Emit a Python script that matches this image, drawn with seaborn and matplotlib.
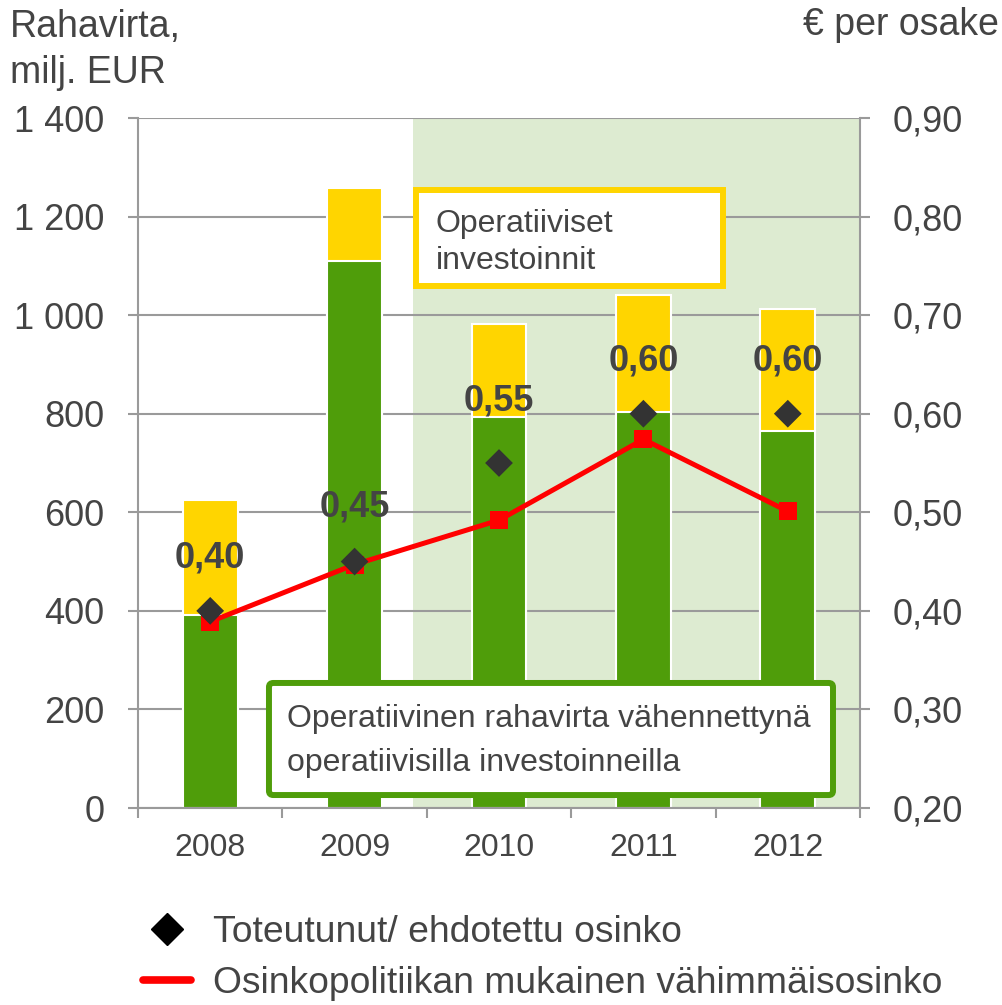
import numpy as np
import pandas as pd
import matplotlib
matplotlib.use("Agg")
import matplotlib.pyplot as plt
import seaborn as sns
from matplotlib.patches import Rectangle, FancyBboxPatch
from matplotlib.lines import Line2D

# ---------------- data ----------------
years = ["2008", "2009", "2010", "2011", "2012"]
free_cash_flow = [392, 1110, 793, 803, 765]          # green part (milj. EUR)
total_cash_flow = [625, 1258, 982, 1041, 1012]       # green + yellow (milj. EUR)
dividend = [0.40, 0.45, 0.55, 0.60, 0.60]            # € per osake
min_dividend = [0.389, 0.447, 0.492, 0.574, 0.501]   # € per osake
dividend_labels = ["0,40", "0,45", "0,55", "0,60", "0,60"]

left_ticks = [0, 200, 400, 600, 800, 1000, 1200, 1400]
left_tick_labels = ["0", "200", "400", "600", "800", "1 000", "1 200", "1 400"]
right_ticks = [0.20, 0.30, 0.40, 0.50, 0.60, 0.70, 0.80, 0.90]
right_tick_labels = ["0,20", "0,30", "0,40", "0,50", "0,60", "0,70", "0,80", "0,90"]

legend_labels = ["Toteutunut/ ehdotettu osinko",
                 "Osinkopolitiikan mukainen vähimmäisosinko"]

# ---------------- style ----------------
GREEN = "#4F9D0A"
YELLOW = "#FFD500"
SHADE = "#DDEBD1"
GRID = "#9A9A9A"
TEXT = "#444444"
label_offsets = [38, 39, 45, 38, 38]   # points above the diamond

sns.set_theme(style="white")
plt.rcParams["font.family"] = ["Liberation Sans", "DejaVu Sans"]

fig = plt.figure(figsize=(10.03, 10.05), dpi=100)
ax = fig.add_axes([138 / 1003, 1 - 808 / 1005, 722 / 1003, 690 / 1005])

df = pd.DataFrame({"year": years, "total": total_cash_flow, "free": free_cash_flow})

ax.axvspan(1.404, 4.6, color=SHADE, lw=0, zorder=0.2)
sns.barplot(data=df, x="year", y="total", color=YELLOW, saturation=1, width=0.38,
            edgecolor="white", linewidth=1.5, ax=ax, zorder=2)
sns.barplot(data=df, x="year", y="free", color=GREEN, saturation=1, width=0.38,
            edgecolor="white", linewidth=1.5, ax=ax, zorder=2)

ax.set_xlim(-0.5, 4.5)
ax.set_ylim(0, 1400)
ax.set_yticks(left_ticks)
ax.set_yticklabels(left_tick_labels)
ax.set_xlabel("")
ax.set_ylabel("")
ax.set_axisbelow(True)
ax.yaxis.grid(True, color=GRID, lw=1.5)
ax.xaxis.grid(False)

for s in ["top", "right"]:
    ax.spines[s].set_visible(False)
for s in ["left", "bottom"]:
    ax.spines[s].set_color(GRID)
    ax.spines[s].set_linewidth(1.5)

ax.tick_params(axis="y", which="major", left=True, length=7.2, width=1.5, color=GRID,
               direction="out", pad=17, labelsize=26, labelcolor=TEXT)
ax.tick_params(axis="x", which="major", bottom=True, length=0, pad=18,
               labelsize=23, labelcolor=TEXT)
ax.set_xticks(np.arange(-0.5, len(years)), minor=True)
ax.tick_params(axis="x", which="minor", bottom=True, length=7.2, width=1.5,
               color=GRID, direction="out")

# ---------------- right axis ----------------
ax2 = ax.twinx()
xpos = np.arange(len(years))
sns.lineplot(x=xpos, y=min_dividend, color="#FF0000", lw=3.6, marker="s",
             markersize=13, markeredgewidth=0, legend=False, ax=ax2, zorder=4)
sns.scatterplot(x=xpos, y=dividend, marker="D", s=200, color="#333333",
                edgecolor="none", legend=False, ax=ax2, zorder=5)
ax2.set_xlim(-0.5, 4.5)
ax2.set_ylim(0.2, 0.9)
ax2.set_yticks(right_ticks)
ax2.set_yticklabels(right_tick_labels)
ax2.set_ylabel("")
ax2.grid(False)
for s in ["top", "left", "bottom"]:
    ax2.spines[s].set_visible(False)
ax2.spines["right"].set_color(GRID)
ax2.spines["right"].set_linewidth(1.5)
ax2.tick_params(axis="y", which="major", right=True, length=7.2, width=1.5, color=GRID,
                direction="out", pad=16, labelsize=26, labelcolor=TEXT)

for x, y, lab, off in zip(xpos, dividend, dividend_labels, label_offsets):
    ax2.annotate(lab, (x, y), xytext=(0, off), textcoords="offset points",
                 ha="center", va="center", fontsize=26, fontweight="bold",
                 color=TEXT, zorder=6)

# ---------------- annotation boxes ----------------
ax2.add_patch(Rectangle((0.385, 0.7565), 0.810 - 0.385, 0.8957 - 0.7565,
                        transform=ax2.transAxes, facecolor="white",
                        edgecolor=YELLOW, lw=4.3, zorder=7, clip_on=False))
ax2.text(0.4127, 0.8348, "Operatiiviset", transform=ax2.transAxes, fontsize=23,
         color=TEXT, va="baseline", ha="left", zorder=8)
ax2.text(0.4127, 0.7812, "investoinnit", transform=ax2.transAxes, fontsize=23,
         color=TEXT, va="baseline", ha="left", zorder=8)

ax2.add_patch(FancyBboxPatch((0.1814, 0.0188), 0.9626 - 0.1814, 0.1812 - 0.0188,
                             boxstyle="round,pad=0,rounding_size=0.006",
                             transform=ax2.transAxes, facecolor="white",
                             edgecolor=GREEN, lw=4.3, zorder=7, clip_on=False))
ax2.text(0.2064, 0.1174, "Operatiivinen rahavirta vähennettynä",
         transform=ax2.transAxes, fontsize=23, color=TEXT, va="baseline",
         ha="left", zorder=8)
ax2.text(0.2064, 0.0536, "operatiivisilla investoinneilla",
         transform=ax2.transAxes, fontsize=23, color=TEXT, va="baseline",
         ha="left", zorder=8)

# ---------------- axis titles ----------------
fig.text(10 / 1003, 1 - 37 / 1005, "Rahavirta,", fontsize=27, color=TEXT,
         ha="left", va="baseline")
fig.text(10 / 1003, 1 - 83 / 1005, "milj. EUR", fontsize=27, color=TEXT,
         ha="left", va="baseline")
fig.text(999 / 1003, 1 - 35 / 1005, "€ per osake", fontsize=27, color=TEXT,
         ha="right", va="baseline")

# ---------------- legend ----------------
handles = [
    Line2D([], [], marker="D", color="black", linestyle="none", markersize=16),
    Line2D([], [], color="#FF0000", lw=5.5),
]
fig.legend(handles, legend_labels, loc="upper left",
           bbox_to_anchor=(143 / 1003, 1 - 915 / 1005), frameon=False,
           fontsize=26.8, handlelength=1.28, handletextpad=0.6,
           labelspacing=0.42, borderpad=0, borderaxespad=0, labelcolor=TEXT)

fig.savefig("out.png", dpi=100)
